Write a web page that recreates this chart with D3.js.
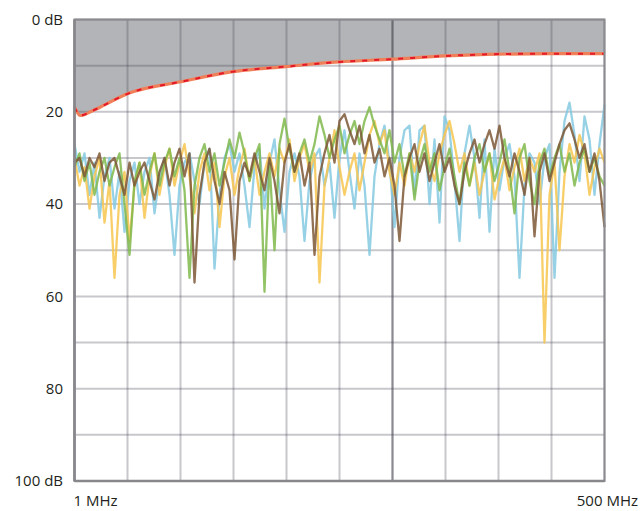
<!DOCTYPE html>
<html><head><meta charset="utf-8">
<script src="https://cdn.jsdelivr.net/npm/d3@7"></script>
<style>html,body{margin:0;padding:0;background:#fff;}svg{display:block;}</style>
</head><body>
<svg id="c" width="640" height="511"></svg>
<script>
// ---- data ----
const yTicks = [0, 20, 40, 60, 80, 100];
const yTickLabels = ["0 dB", "20", "40", "60", "80", "100 dB"];
const xLabels = ["1 MHz", "500 MHz"];
const freqMin = 1, freqMax = 500;

const limitFreq = [1, 6.6, 16, 25, 52, 101, 150, 200, 250, 300, 350, 400, 450, 500];
const limitDb   = [19, 20.8, 20, 19, 16, 13.5, 11.3, 10.2, 9.2, 8.6, 7.9, 7.5, 7.4, 7.4];

const blueDb = [27,33,29,38,31,43,34,30,41,33,46,35,31,40,33,30,42,34,30,38,51,36,31,29,35,40,31,28,54,38,30,27,33,29,36,45,32,28,41,31,26,37,46,33,29,34,48,35,30,28,36,31,43,30,24,33,41,29,36,51,34,27,23,31,45,30,24,23,38,24,23,40,26,44,21,24,35,48,29,23,30,43,26,46,28,37,30,27,34,56,36,29,31,40,30,27,56,33,22,18,25,35,21,26,38,27,18.5];
const yellowDb = [30,36,32,41,34,30,44,35,56,38,33,48,36,31,43,34,29,38,32,28,36,31,27,34,42,33,29,37,31,45,34,30,38,32,28,35,30,38,33,29,34,28,31,26,35,30,27,33,29,57,36,30,24,32,38,33,29,37,31,25,22,27,24,33,38,31,36,29,33,27,23,31,35,29,25,22,27,33,29,36,31,38,33,29,39,34,30,37,32,28,35,30,33,29,70,38,31,50,34,27,31,25,29,38,32,28,31];
const greenDb = [32,29,35,31,38,33,30,36,32,29,40,51,35,31,38,33,29,36,31,28,34,30,37,56,36,30,27,33,29,36,31,26,30,24.5,29,35,30,27,59,31,50,27,21.5,28,33,29,26,31,27,21,25,30,26,23,29,25,22,27,22,19,23,26,29,24,31,27,34,29,39,31,27,33,29,37,32,28,34,40,31,36,30,27,33,29,35,31,26,33,42,30,27,35,40,31,28,34,30,27,33,29,36,31,28,33,30,34,36];
const brownDb = [31,30,34,30,32,29,35,31,30,34,38,31,36,33,31,35,39,33,30,36,31,28,34,29,57,38,31,28,35,40,33,37,52,35,31,34,29,33,37,30,35,42,31,27,33,29,36,31,51,34,29,25,31,22,20.5,24,27,23,29,25,31,28,34,30,36,48,34,30,27,33,29,35,31,27,33,30,36,40,33,29,26,31,27,24,28,23,30,34,29,33,38,30,47,33,29,35,31,27,24,22.5,26,30,27,33,29,35,45];

const seriesList = [
  {name: "blue",   values: blueDb,   color: "#84c9e0"},
  {name: "yellow", values: yellowDb, color: "#f7c650"},
  {name: "green",  values: greenDb,  color: "#80b84c"},
  {name: "brown",  values: brownDb,  color: "#7d5736"}
];

// ---- layout ----
const svg = d3.select("#c");
const L = 74.5, R = 604.5, T = 19.5, B = 481;
const x = d3.scaleLinear().domain([freqMin, freqMax]).range([L, R]);
const y = d3.scaleLinear().domain([0, 100]).range([T, B]);

const defs = svg.append("defs");
defs.append("filter").attr("id", "soft").attr("x", "-5%").attr("y", "-5%").attr("width", "110%").attr("height", "110%")
  .append("feGaussianBlur").attr("stdDeviation", 0.45);

// shaded area above limit line
const limitData = limitFreq.map((f, i) => ({f, v: limitDb[i]}));
svg.append("path").datum(limitData)
  .attr("d", d3.area().x(d => x(d.f)).y0(y(0)).y1(d => y(d.v)).curve(d3.curveMonotoneX))
  .attr("fill", "#b3b4b7");

// grid
const nDiv = 10;
const xGrid = d3.range(nDiv + 1).map(i => freqMin + i * (freqMax - freqMin) / nDiv);
svg.append("g").selectAll("line").data(xGrid).join("line")
  .attr("x1", d => x(d)).attr("x2", d => x(d)).attr("y1", T).attr("y2", B)
  .attr("stroke", (d, i) => i === 6 ? "rgba(60,60,70,0.6)" : "rgba(70,70,85,0.3)")
  .attr("stroke-width", (d, i) => i === 6 ? 2.2 : 2);
const yGrid = d3.range(0, 101, 10);
svg.append("g").selectAll("line").data(yGrid).join("line")
  .attr("x1", L).attr("x2", R).attr("y1", d => y(d)).attr("y2", d => y(d))
  .attr("stroke", "rgba(70,70,85,0.3)").attr("stroke-width", 2);

// series
const n = blueDb.length;
const xi = d3.scaleLinear().domain([0, n - 1]).range([freqMin, freqMax]);
const line = d3.line().x((d, i) => x(xi(i))).y(d => y(d));
svg.append("g").attr("filter", "url(#soft)").selectAll("path").data(seriesList).join("path")
  .attr("d", d => line(d.values))
  .attr("fill", "none").attr("stroke", d => d.color)
  .attr("stroke-width", 2.3).attr("stroke-opacity", 0.85)
  .attr("stroke-linejoin", "round");

// limit line
const limLine = d3.line().x(d => x(d.f)).y(d => y(d.v)).curve(d3.curveMonotoneX);
svg.append("path").datum(limitData).attr("d", limLine)
  .attr("fill", "none").attr("stroke", "#f0805a").attr("stroke-width", 3.2);
svg.append("path").datum(limitData).attr("d", limLine)
  .attr("fill", "none").attr("stroke", "#e3182b").attr("stroke-width", 2)
  .attr("stroke-dasharray", "5,7");

// frame
svg.append("rect").attr("x", L).attr("y", T).attr("width", R - L).attr("height", B - T)
  .attr("fill", "none").attr("stroke", "#8c8c90").attr("stroke-width", 2);
svg.append("line").attr("x1", L).attr("x2", L).attr("y1", T).attr("y2", B)
  .attr("stroke", "#88888c").attr("stroke-width", 2.6);
svg.append("line").attr("x1", L).attr("x2", R).attr("y1", B).attr("y2", B)
  .attr("stroke", "#88888c").attr("stroke-width", 2.6);

// labels
const font = "'Open Sans', 'Noto Sans', sans-serif";
svg.append("g").selectAll("text").data(yTicks).join("text")
  .attr("x", 63).attr("y", d => y(d)).attr("dy", "0.35em")
  .attr("text-anchor", "end").attr("font-family", font).attr("font-size", 15)
  .attr("fill", "#231f20").text((d, i) => yTickLabels[i]);
svg.append("text").attr("x", x(freqMin) - 1).attr("y", 506)
  .attr("font-family", font).attr("font-size", 15).attr("fill", "#231f20").text(xLabels[0]);
svg.append("text").attr("x", 638).attr("y", 506).attr("text-anchor", "end")
  .attr("font-family", font).attr("font-size", 15).attr("fill", "#231f20").text(xLabels[1]);
</script>
</body></html>
